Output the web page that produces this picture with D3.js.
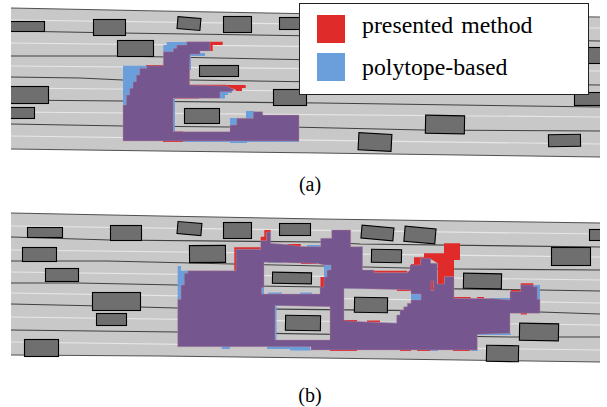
<!DOCTYPE html>
<html><head><meta charset="utf-8">
<script src="https://cdn.jsdelivr.net/npm/d3@7"></script>
<style>html,body{margin:0;padding:0;background:#fff}svg{display:block}</style>
</head><body><div id="chart"></div>
<script>
const legendLabels=["presented method","polytope-based"];
const panelLabels=["(a)","(b)"];
const colorBoth="#75568f",colorPresented="#e02b2b",colorPolytope="#6a9fdc";

// ---- panel (a) in scene units
const roadA=[[11,8],[160,11],[320,14],[600,17],[600,157],[320,153],[160,151],[11,149]];
const edgesA=[[[11,8],[160,11],[320,14],[600,17]],[[11,149],[160,151],[320,153],[600,157]]];
const whiteA=[[[11,20],[600,28]],[[11,43],[600,50]],[[11,66],[600,71]],[[11,88],[600,94]],[[11,112],[600,117]],[[11,136],[600,144]]];
const blackA=[[[11,31],[120,33],[320,36],[600,41]],[[11,56],[117,56],[320,60],[600,61]],[[11,77],[80,78],[123,80],[190,80],[320,82],[600,85]],[[11,100],[123,101],[320,103],[600,107]],[[11,124],[123,126],[230,127],[290,127],[423,130],[600,131]]];
const vehiclesA=[[8,21,44,31,0],[93,19,125,35,0],[177,17,200,29,5],[223,16,251,32,0],[279,17,312,29,0],[117,40,153,56,0],[199,65,238,76,0],[8,86,48,103,0],[8,107,34,118,0],[273,89,306,105,0],[184,108,219,123,0],[425,115,464,133,1],[358,133,391,150,3],[548,134,580,146,-1],[574,92,604,105,0],[580,47,604,63,0]];
const bothA=[[[123,141],[123,105],[126.3,105],[126.3,95],[129.7,95],[129.7,88.3],[133,88.3],[133,81.7],[136.3,81.7],[136.3,75],[139.7,75],[139.7,68.3],[146.7,68.3],[146.7,65.7],[163.3,65.7],[163.3,51.7],[173.3,51.7],[173.3,48.3],[176.7,48.3],[176.7,45],[186.7,45],[186.7,41.7],[210,41.7],[210,51],[200,51],[200,54.3],[190,54.3],[189.3,85],[226.7,86],[235,90],[230,91.7],[220,91.7],[220,98.3],[173.3,98.3],[173.3,131.7],[230,131.7],[230,125],[236.7,125],[236.7,118.3],[253.3,118.3],[253.3,111.7],[262.7,111.7],[262.7,115],[299,115],[299,141]]];
const polytopeA=[[[123,65.7],[147,65.7],[147,72],[128,104],[126,108],[123,108]],[[163.3,52],[163.3,45],[166.7,45],[166.7,42],[188,42],[188,52]],[[189.5,53],[205,53],[205,56],[191,56],[191,70],[189.5,70]],[[220,91],[232,91],[232,93],[228,93],[228,95],[225,95],[225,98.5],[220,98.5]],[[173.2,98],[175,98],[175,132],[173.2,132]],[[230,125],[230,118],[238,118],[238,125]],[[246,118.5],[246,111],[254,111],[254,118.5]],[[230,141],[247,141],[247,143],[230,143]],[[183,141],[299,141],[299,142],[183,142]]];
const presentedA=[[[210,41.7],[222.7,41.7],[222.7,45],[212.7,45],[212.7,51],[210,51]],[[146,65],[163,65],[163,66],[146,66]],[[188.7,70],[189.5,70],[189.5,85],[188.7,85]],[[189,84.8],[226,84.8],[226,86],[189,86]],[[226,85],[245.7,85],[245.7,88],[242,88],[242,91],[236,91],[235,89],[226,88]],[[175,97],[199,97],[199,98.5],[175,98.5]],[[174.5,131.5],[183,131.5],[183,134],[174.5,134]],[[163,141],[183,141],[183,142],[163,142]]];

// ---- panel (b)
const roadB=[[11,213],[160,216],[320,219],[600,223],[600,362],[320,358],[160,356],[11,355]];
const edgesB=[[[11,213],[160,216],[320,219],[600,223]],[[11,355],[160,356],[320,358],[600,362]]];
const whiteB=[[[11,226],[600,234]],[[11,250],[600,257]],[[11,272],[600,280]],[[11,293],[600,303]],[[11,317],[600,325]],[[11,342],[600,350]]];
const blackB=[[[11,237],[110,240],[320,242],[360,244],[600,247]],[[11,261],[107,261],[233,264],[453,269],[600,270]],[[11,283],[78,283],[177,285],[540,290],[600,291]],[[11,304],[101,306],[177,308],[540,312],[600,314]],[[11,330],[177,332],[510,337],[600,337]]];
const vehiclesB=[[27,227,62,237,0],[110,225,141,240,0],[177,222,201,234,5],[223,222,251,238,0],[279,223,310,235,0],[22,247,56,261,0],[189,245,225,262,-0.5],[45,268,78,281,0],[92,292,140,310,0],[96,313,126,325,0],[24,339,58,356,0],[272,272,311,283,1],[285,315,320,330,1],[361,226,393,239,5],[404,227,435,242,5],[589,229,604,240,0],[551,247,590,265,0],[371,249,401,262,1],[463,273,501,288,1],[354,297,387,312,1],[519,323,558,340,1],[486,345,518,361,1]];
const bothB=[
 [[177.7,346.7],[177.7,299.3],[181,299.3],[181,285],[184.3,285],[184.3,273.3],[187.7,273.3],[187.7,270.7],[236,270.7],[236,249.3],[260.7,249.3],[260.7,240.7],[266.7,240.7],[266.7,232],[270.7,232],[270.7,243.3],[287,244.5],[300.7,246.5],[320.7,246.7],[320.7,238.3],[331.7,238.3],[331.7,230],[350.7,230],[350.7,246.7],[362.5,246.7],[362.5,270],[374,270],[374,272.7],[407,272.7],[410,270],[410,265],[414,265],[420.7,265],[420.7,258.3],[430.7,258.3],[430.7,263.3],[437.3,263.3],[437.3,284],[444.3,284],[444.3,276.7],[454,276.7],[454,298.3],[490,298.5],[510,300],[510,291.5],[520.7,291.5],[520.7,285],[533.3,285],[533.3,286.7],[537.3,286.7],[537.3,299.3],[540,299.3],[540,313.3],[510,313.3],[510,333.3],[477.3,334.3],[477.3,350],[311,350],[311,346.7]],
 [[264,262.3],[317,263.5],[324,265],[331,265],[331,270],[327,270],[327,277],[324,277],[324,287],[320,287],[320,294],[261.7,294],[261.7,287.7],[264,287.7]],
 [[275,305.5],[327,306.7],[330,306.7],[330,340],[275,340]],
 [[344,288.3],[411,290],[411,294],[421,294],[421,300],[411,300],[411,303.3],[407.3,303.3],[407.3,306.7],[403.7,306.7],[403.7,310],[400,310],[400,315],[396.7,315],[396.7,323.3],[344,320.7]],
 [[431,281],[433.3,281],[433.3,290.7],[431,290.7]]
];
const polytopeB=[
 [[177.7,299.3],[177.7,266],[181,266],[181,270.7],[187.7,270.7],[187.7,274],[184,285],[181,299.3]],
 [[221.7,346],[230,346],[230,349],[221.7,349]],[[267,346],[310,346],[310,349],[267,349]],[[290,349],[310.7,349],[310.7,350.5],[290,350.5]],
 [[307,245],[320.7,245],[320.7,247.5],[307,247.5]],
 [[317.7,260.7],[336.7,260.7],[336.7,263.3],[317.7,263.3]],
 [[324,263],[331,263],[331,271],[327,271],[327,277],[324,277]],
 [[268,261.5],[282,261.5],[282,263],[268,263]],
 [[261.5,287.7],[264,287.7],[264,294],[261.5,294]],[[268,292.5],[282,292.5],[282,294],[268,294]],[[300,292.5],[312,292.5],[312,294],[300,294]],
 [[275,304],[327,304],[327,306],[276.5,306],[276.5,340],[275,340]],
 [[330,312.5],[334,312.5],[334,316.7],[330,316.7]],
 [[360,246.7],[362.5,246.7],[362.5,268],[360,268]],
 [[344,287],[397,287],[397,288.8],[344,288.8]],
 [[411,293],[421,293],[421,300],[411,300]],
 [[380,322.5],[397,322.5],[397,324],[380,324]],
 [[490,298],[510.7,298],[510.7,300],[490,300]],
 [[533,285],[540,285],[540,300],[533,300]],
 [[476.7,333],[510.7,333],[510.7,335],[476.7,335]],
 [[430,349],[438,349],[438,351],[430,351]],[[471,349],[477.5,349],[477.5,351],[471,351]]
];
const presentedB=[
 [[234.3,270.7],[234.3,247.3],[260.7,247.3],[260.7,249.3],[236,249.3],[236,270.7]],
 [[260.7,240.7],[260.7,236.7],[264.3,236.7],[264.3,230],[270.7,230],[270.7,232],[266.7,232],[266.7,240.7]],
 [[287.3,244],[300.7,244],[300.7,247],[287.3,247]],
 [[301,261.7],[317,261.7],[317,264],[301,264]],
 [[444,243.3],[460,243.3],[460,260],[454,260],[454,276.7],[444.3,276.7],[444.3,284],[437.7,284],[437.7,263.3],[430.7,259],[420.7,259],[420.7,265],[411,266],[411,264],[414,264],[414,257.3],[424,257.3],[424,253.3],[444,253.3]],
 [[431,281],[433.3,281],[433.3,290.7],[431,290.7]],
 [[374,270.7],[407.3,270.7],[407.3,272.8],[374,272.8]],
 [[397,289.5],[413.3,289.5],[413.3,293.3],[411,293.3],[411,291],[397,291]],
 [[320.5,277],[324,277],[324,287],[320.5,287]],
 [[344,320],[357,320],[357,322],[344,322]],[[367,320.5],[380,320.5],[380,322.5],[367,322.5]],
 [[454,297],[470.7,297],[470.7,298.5],[454,298.5]],[[477,297],[484,297],[484,298.5],[477,298.5]],
 [[510.7,290],[520.7,290],[520.7,292],[510.7,292]],[[520.7,283.3],[533.3,283.3],[533.3,285.2],[520.7,285.2]],
 [[520.7,312.5],[527,312.5],[527,314.5],[520.7,314.5]],
 [[275,340],[330,340],[330,341],[275,341]],
 [[330,349],[357,349],[357,351],[330,351]],[[400,349],[411,349],[411,351],[400,351]],[[417,349],[430,349],[430,351],[417,351]],[[453,349],[470,349],[470,351],[453,351]]
];

const width=607,height=407;
const x=d3.scaleLinear().domain([0,607]).range([0,width]);
const y=d3.scaleLinear().domain([0,407]).range([0,height]);
const line=d3.line().x(d=>x(d[0])).y(d=>y(d[1]));
const ring=r=>line(r)+"Z";
const svg=d3.select("#chart").append("svg").attr("width",width).attr("height",height);

function panel(road,edges,white,black,polytope,presented,both,vehicles){
  const g=svg.append("g");
  g.append("path").attr("d",ring(road)).attr("fill","#c8c8c8");
  g.selectAll(".w").data(white).join("path").attr("d",line).attr("fill","none").attr("stroke","#e6e6e6").attr("stroke-width",1.2);
  g.selectAll(".b").data(black).join("path").attr("d",line).attr("fill","none").attr("stroke","#404040").attr("stroke-width",1.1);
  g.selectAll(".e").data(edges).join("path").attr("d",line).attr("fill","none").attr("stroke","#505050").attr("stroke-width",1);
  g.selectAll(".pol").data(polytope).join("path").attr("d",ring).attr("fill",colorPolytope);
  g.selectAll(".pre").data(presented).join("path").attr("d",ring).attr("fill",colorPresented);
  g.append("path").attr("d",both.map(ring).join("")).attr("fill",colorBoth).attr("fill-rule","evenodd")
    .attr("stroke","#c08a9c").attr("stroke-width",0.4);
  g.selectAll(".v").data(vehicles).join("rect")
    .attr("x",d=>x(d[0])+0.5).attr("y",d=>y(d[1])+0.5)
    .attr("width",d=>x(d[2])-x(d[0])).attr("height",d=>y(d[3])-y(d[1]))
    .attr("transform",d=>`rotate(${d[4]} ${x((d[0]+d[2])/2)} ${y((d[1]+d[3])/2)})`)
    .attr("fill","#6f6f6f").attr("stroke","#000").attr("stroke-width",1.1);
  // image edge
  g.append("rect").attr("x",x(0)).attr("y",y(road[0][1]-3)).attr("width",x(11)).attr("height",y(road[4][1]-road[0][1]+8)).attr("fill","#fff");
  g.append("rect").attr("x",x(600)).attr("y",y(road[0][1]-3)).attr("width",x(7)).attr("height",y(road[4][1]-road[0][1]+8)).attr("fill","#fff");
}
panel(roadA,edgesA,whiteA,blackA,polytopeA,presentedA,bothA,vehiclesA);
panel(roadB,edgesB,whiteB,blackB,polytopeB,presentedB,bothB,vehiclesB);

const legend=svg.append("g");
legend.append("rect").attr("x",x(299.5)).attr("y",y(3.5)).attr("width",x(289)).attr("height",y(91)).attr("fill","#fff").attr("stroke","#222").attr("stroke-width",1);
const serif="'Liberation Serif','Times New Roman',serif";
const swatchColors=[colorPresented,colorPolytope];
legendLabels.forEach((t,i)=>{
  legend.append("rect").attr("x",x(317)).attr("y",y(15+i*38)).attr("width",x(28)).attr("height",y(28)).attr("fill",swatchColors[i]);
  legend.append("text").attr("x",x(362)).attr("y",y(33+i*42)).text(t).attr("font-family",serif).attr("font-size",23.8).attr("word-spacing",2).attr("fill","#000");
});
panelLabels.forEach((t,i)=>{
  svg.append("text").attr("x",x(310)).attr("y",y([191,402][i])).attr("text-anchor","middle").text(t).attr("font-family",serif).attr("font-size",20).attr("fill","#000");
});
</script></body></html>
